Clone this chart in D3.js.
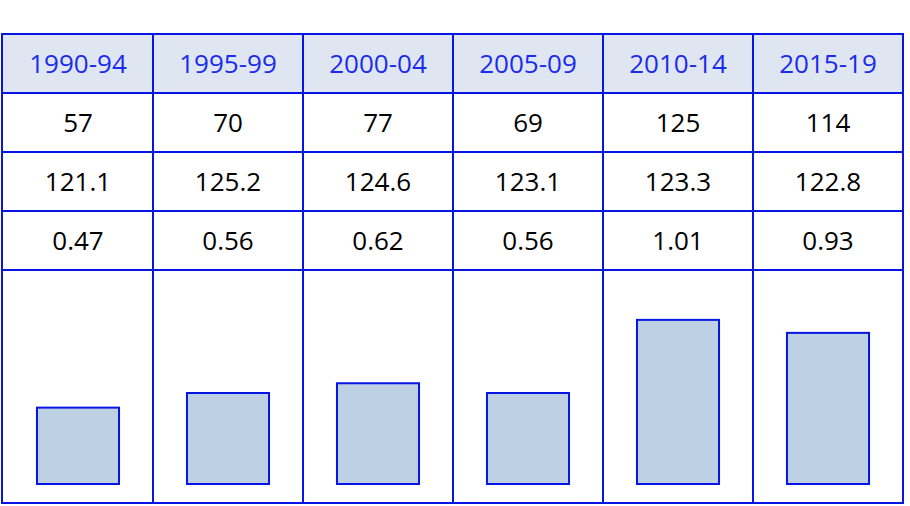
<!DOCTYPE html>
<html>
<head>
<meta charset="utf-8">
<script src="https://cdn.jsdelivr.net/npm/d3@7"></script>
<style>
  html, body { margin: 0; padding: 0; background: #fff; }
  svg { display: block; }
</style>
</head>
<body>
<svg id="chart" width="910" height="506"></svg>
<script>
const periods = ["1990-94", "1995-99", "2000-04", "2005-09", "2010-14", "2015-19"];
const row1 = ["57", "70", "77", "69", "125", "114"];
const row2 = ["121.1", "125.2", "124.6", "123.1", "123.3", "122.8"];
const row3 = [0.47, 0.56, 0.62, 0.56, 1.01, 0.93];
const row3Labels = ["0.47", "0.56", "0.62", "0.56", "1.01", "0.93"];

(function () {
const svg = d3.select("#chart");
const leftX = 3, rightX = 903, topY = 34, rowH = 59, barTop = 270, bottomY = 503;
const lineColor = "#0614e4";

const x = d3.scaleBand().domain(periods).range([leftX, rightX]).padding(0);
const y = d3.scaleLinear().domain([0, 1.2]).range([bottomY - 19, barTop + 19]);

// header background
svg.append("rect")
  .attr("x", leftX).attr("y", topY).attr("width", rightX - leftX).attr("height", rowH)
  .attr("fill", "#dfe6f1");

const textRows = [periods, row1, row2, row3Labels];
textRows.forEach((row, ri) => {
  svg.append("g").selectAll("text").data(row).join("text")
    .attr("x", (d, i) => x(periods[i]) + x.bandwidth() / 2)
    .attr("y", topY + rowH * ri + rowH / 2)
    .attr("dy", "0.36em")
    .attr("text-anchor", "middle")
    .attr("font-family", "'Open Sans', 'Noto Sans', sans-serif")
    .attr("font-size", 26)
    .attr("fill", ri === 0 ? "#1a2ceb" : "#000")
    .text(d => d);
});

// bars
const bw = x.bandwidth() * 0.547;
svg.append("g").selectAll("rect").data(row3).join("rect")
  .attr("x", (d, i) => x(periods[i]) + (x.bandwidth() - bw) / 2)
  .attr("y", d => y(d))
  .attr("width", bw)
  .attr("height", d => y(0) - y(d))
  .attr("fill", "#bdd0e4")
  .attr("stroke", lineColor)
  .attr("stroke-width", 2);

// grid lines
const g = svg.append("g").attr("stroke", lineColor).attr("stroke-width", 2).attr("fill", "none");
[1, 2, 3, 4].forEach(r => {
  g.append("line").attr("x1", leftX).attr("x2", rightX)
    .attr("y1", topY + rowH * r).attr("y2", topY + rowH * r);
});
periods.slice(1).forEach(p => {
  g.append("line").attr("x1", x(p)).attr("x2", x(p)).attr("y1", topY).attr("y2", bottomY);
});
g.append("rect").attr("x", leftX - 1).attr("y", topY).attr("width", rightX - leftX + 1).attr("height", bottomY - topY);
})();
</script>
</body>
</html>
